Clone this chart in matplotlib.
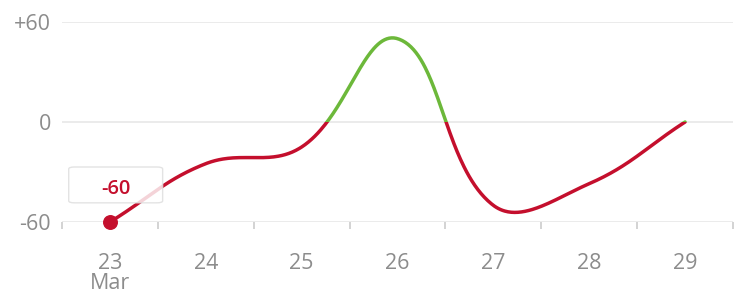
import numpy as np
import matplotlib.pyplot as plt
from matplotlib.patches import Rectangle, FancyBboxPatch

# data
days = [23, 24, 25, 26, 27, 28, 29]
values = [-60, -25, -15, 50, -50, -37, 0]
y_ticks = [-60, 0, 60]
y_tick_labels = ['-60', '0', '+60']
x_tick_labels = ['23\nMar', '24', '25', '26', '27', '28', '29']

red = '#c40f2d'
green = '#6cb83a'
grey_txt = '#8c8c8c'
grid_c = '#e8e8e8'

# pixel scale, for the spline distances
PX_X = 96.0      # px per day
PX_Y = 100 / 60  # px per unit


def spline(xs, ys, tension=0.4, n=80):
    # chart.js style bezier spline, control points from pixel distances
    xs = np.asarray(xs, float) * PX_X
    ys = np.asarray(ys, float) * PX_Y
    k = len(xs)
    lc, rc = [], []
    for i in range(k):
        p = np.array([xs[i], ys[i]])
        a = np.array([xs[max(i - 1, 0)], ys[max(i - 1, 0)]])
        b = np.array([xs[min(i + 1, k - 1)], ys[min(i + 1, k - 1)]])
        d01 = np.hypot(*(p - a))
        d12 = np.hypot(*(b - p))
        fa = tension * d01 / (d01 + d12)
        fb = tension * d12 / (d01 + d12)
        lc.append(p - fa * (b - a))
        rc.append(p + fb * (b - a))
    t = np.linspace(0, 1, n)[:, None]
    out = []
    for i in range(k - 1):
        p0 = np.array([xs[i], ys[i]])
        p3 = np.array([xs[i + 1], ys[i + 1]])
        seg = ((1 - t) ** 3) * p0 + 3 * ((1 - t) ** 2) * t * rc[i] + 3 * (1 - t) * t ** 2 * lc[i + 1] + t ** 3 * p3
        out.append(seg if i == 0 else seg[1:])
    out = np.vstack(out)
    return out[:, 0] / PX_X, out[:, 1] / PX_Y


plt.rcParams['font.family'] = ['Open Sans', 'DejaVu Sans']

fig = plt.figure(figsize=(7.35, 2.95), dpi=100)
ax = fig.add_axes([62 / 735, 73 / 295, 671 / 735, 200 / 295])
ax.set_xlim(22.5, 29.5)
ax.set_ylim(-60, 60)

for s in ax.spines.values():
    s.set_visible(False)

for yv in y_ticks:
    ax.axhline(yv, color=grid_c, lw=1.2, zorder=1)

sx, sy = spline(days, values)
lo, = ax.plot(sx, sy, color=red, lw=2.5, solid_capstyle='round', zorder=3)
hi, = ax.plot(sx, sy, color=green, lw=2.5, solid_capstyle='round', zorder=3)
lo.set_clip_path(Rectangle((22, -100), 10, 100, transform=ax.transData))
hi.set_clip_path(Rectangle((22, 0), 10, 100, transform=ax.transData))

ax.scatter([days[0]], [values[0]], s=95, color=red, zorder=5, clip_on=False)

# tooltip
box = FancyBboxPatch((22.57, -48.5), 0.98, 21.5, boxstyle='round,pad=0,rounding_size=0.06',
                     transform=ax.transData, facecolor='white', edgecolor='#dddddd',
                     lw=1, alpha=0.82, zorder=4, mutation_aspect=20)
ax.add_patch(box)
ax.text(23.06, -40.5, '%d' % values[0], color=red, fontsize=14.5, fontweight='semibold',
        ha='center', va='center', zorder=6)

ax.set_yticks(y_ticks)
ax.set_yticklabels(y_tick_labels, color=grey_txt, fontsize=15.5)
ax.set_xticks(days)
ax.set_xticklabels(x_tick_labels, color=grey_txt, fontsize=15.5, linespacing=0.95)
ax.tick_params(axis='y', length=0, pad=8)
ax.tick_params(axis='x', length=0, pad=22)
ax.set_xticks(np.arange(22.5, 29.6, 1), minor=True)
ax.tick_params(axis='x', which='minor', length=5, color='#cccccc', width=1.2, direction='out')

fig.savefig('out.png', dpi=100)
